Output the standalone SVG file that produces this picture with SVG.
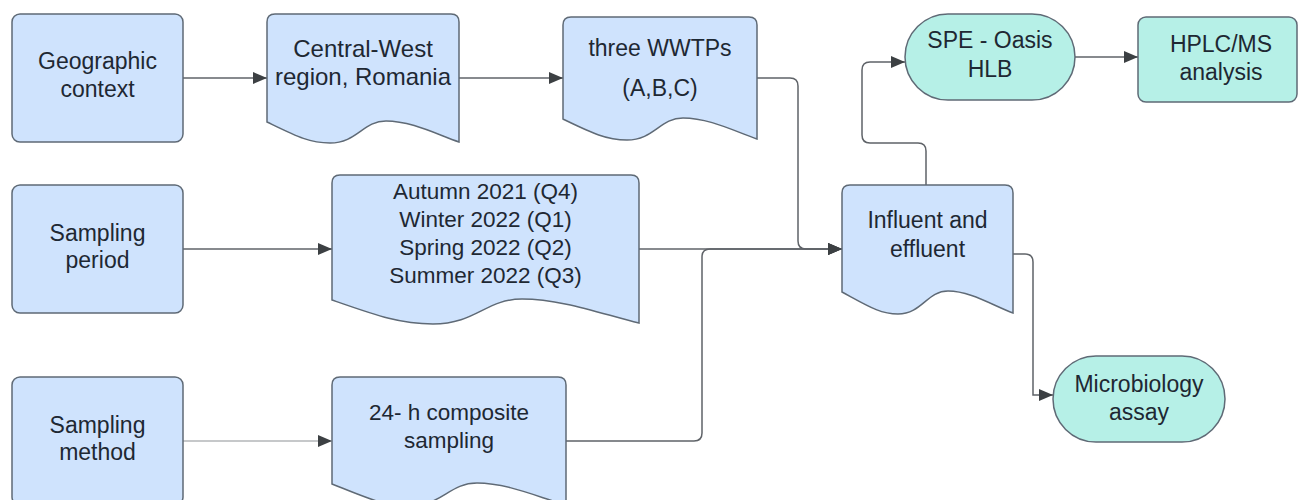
<svg xmlns="http://www.w3.org/2000/svg" width="1298" height="500" viewBox="0 0 1298 500">
<style>
.blue{fill:#cfe3fd;stroke:#5f6a76;stroke-width:1.5}
.teal{fill:#b6f0e7;stroke:#5f6a76;stroke-width:1.5}
text{font-family:"Liberation Sans",Arial,sans-serif;font-size:23px;fill:#1e2833;text-anchor:middle}
.s22{font-size:22.5px}
.s24{font-size:24px}
.edge{fill:none;stroke:#5f6368;stroke-width:1.5}
.light{stroke:#8d9196;stroke-width:1.2}
</style>
<defs>
<marker id="arr" viewBox="0 0 14 12" markerUnits="userSpaceOnUse" markerWidth="14" markerHeight="12" refX="14" refY="6" orient="auto">
<path d="M0,0 L14,6 L0,12 z" fill="#3c4043"/>
</marker>
</defs>
<rect width="1298" height="500" fill="#ffffff"/>
<g id="connectors">
<path class="edge" d="M183,78 H267" marker-end="url(#arr)"/>
<path class="edge" d="M459,78 H563" marker-end="url(#arr)"/>
<path class="edge" d="M757,78 H790 Q798,78 798,86 V241 Q798,249 806,249 H842" marker-end="url(#arr)"/>
<path class="edge" d="M639,249 H842" marker-end="url(#arr)"/>
<path class="edge" d="M566,441 H694 Q702,441 702,433 V257 Q702,249 710,249 H842" marker-end="url(#arr)"/>
<path class="edge" d="M183,249 H332" marker-end="url(#arr)"/>
<path class="edge light" d="M183,441 H332" marker-end="url(#arr)"/>
<path class="edge" d="M926,185 V151 Q926,143 918,143 H870 Q862,143 862,135 V70 Q862,62 870,62 H905" marker-end="url(#arr)"/>
<path class="edge" d="M1075,57 H1138" marker-end="url(#arr)"/>
<path class="edge" d="M1013,254 H1025 Q1033,254 1033,262 V395 H1053" marker-end="url(#arr)"/>
</g>
<g id="geographic">
<rect class="blue" x="12" y="14" width="171" height="128" rx="8"/>
<text x="97.5" y="69">Geographic</text>
<text x="97.5" y="97">context</text>
</g>
<g id="central-west">
<path class="blue" d="M267,22 Q267,14 275,14 H451 Q459,14 459,22 V142 C436,134 411,121 386,121 C363,121 357,143 330,143 C309,143 296,136 267,122 Z"/>
<text class="s24" x="363" y="57">Central-West</text>
<text class="s24" x="363" y="85">region, Romania</text>
</g>
<g id="wwtps">
<path class="blue" d="M563,25 Q563,17 571,17 H749 Q757,17 757,25 V139 C734,131 709,118 683,118 C660,118 654,140 627,140 C606,140 592,133 563,119 Z"/>
<text x="660" y="56">three WWTPs</text>
<text x="660" y="96">(A,B,C)</text>
</g>
<g id="spe">
<rect class="teal" x="905" y="14" width="170" height="86" rx="43"/>
<text x="990" y="48">SPE - Oasis</text>
<text x="990" y="77">HLB</text>
</g>
<g id="hplc">
<rect class="teal" x="1138" y="17" width="159" height="85" rx="8"/>
<text x="1221" y="52">HPLC/MS</text>
<text x="1221" y="80">analysis</text>
</g>
<g id="sampling-period">
<rect class="blue" x="12" y="185" width="171" height="128" rx="8"/>
<text x="97.5" y="241">Sampling</text>
<text x="97.5" y="268">period</text>
</g>
<g id="seasons">
<path class="blue" d="M332,183 Q332,175 340,175 H631 Q639,175 639,183 V323 C602,314 562,299 522,299 C486,299 476,324 433,324 C400,324 378,316 332,300 Z"/>
<text class="s22" x="485.5" y="199">Autumn 2021 (Q4)</text>
<text class="s22" x="485.5" y="227">Winter 2022 (Q1)</text>
<text class="s22" x="485.5" y="255">Spring 2022 (Q2)</text>
<text class="s22" x="485.5" y="283">Summer 2022 (Q3)</text>
</g>
<g id="influent">
<path class="blue" d="M842,193 Q842,185 850,185 H1005 Q1013,185 1013,193 V313 C992,305 970,291 948,291 C927,291 922,314 898,314 C880,314 868,306 842,292 Z"/>
<text x="927.5" y="228">Influent and</text>
<text x="927.5" y="257">effluent</text>
</g>
<g id="microbiology">
<rect class="teal" x="1053" y="356" width="172" height="86" rx="43"/>
<text x="1139" y="392">Microbiology</text>
<text x="1139" y="420">assay</text>
</g>
<g id="sampling-method">
<rect class="blue" x="12" y="377" width="171" height="128" rx="8"/>
<text x="97.5" y="433">Sampling</text>
<text x="97.5" y="460">method</text>
</g>
<g id="composite">
<path class="blue" d="M332,385 Q332,377 340,377 H558 Q566,377 566,385 V505 C538,497 507,483 477,483 C449,483 442,506 409,506 C384,506 367,498 332,484 Z"/>
<text class="s22" x="449" y="420">24- h composite</text>
<text class="s22" x="449" y="448">sampling</text>
</g>
</svg>
